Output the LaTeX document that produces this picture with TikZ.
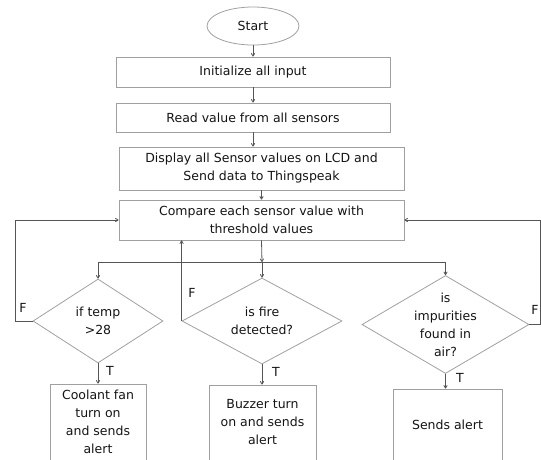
\documentclass[tikz,border=0pt]{standalone}
\usepackage{fontspec}
\setmainfont{DejaVu Sans}
\usetikzlibrary{shapes.geometric,arrows.meta}
\definecolor{boxline}{HTML}{A0A0A0}
\definecolor{wire}{HTML}{555555}
\definecolor{ink}{HTML}{141414}
\begin{document}
\begin{tikzpicture}[x=1pt,y=-1pt,
  every node/.style={text=ink,font=\fontsize{12.5}{18}\selectfont},
  procbox/.style={draw=boxline,line width=0.8pt,rectangle,inner sep=0pt,align=center},
  decision/.style={draw=boxline,line width=0.8pt,diamond,inner sep=-6pt,align=center},
  terminal/.style={draw=boxline,line width=0.8pt,ellipse,inner sep=0pt},
  flow/.style={draw=wire,line width=0.8pt,-{To[length=3.5pt,width=4pt]}},
  tag/.style={inner sep=0pt}]
\useasboundingbox (0,0) rectangle (541,459);

% main sequence
\node[terminal,minimum width=92,minimum height=38] (start) at (253,26) {Start};
\node[procbox,minimum width=274,minimum height=30] (init) at (253,72) {Initialize all input};
\node[procbox,minimum width=274,minimum height=29] (read) at (253,117.5) {Read value from all sensors};
\node[procbox,minimum width=285,minimum height=43] (disp) at (261.5,168.5)
  {Display all Sensor values on LCD and\\Send data to Thingspeak};
\node[procbox,minimum width=285,minimum height=40] (comp) at (261.5,220)
  {Compare each sensor value with\\threshold values};

% decisions
\node[decision,minimum width=130,minimum height=84,aspect=1.55] (temp) at (98,321) {if temp\\>28};
\node[decision,minimum width=160,minimum height=86,aspect=1.86] (fire) at (262,321) {is fire\\detected?};
\node[decision,minimum width=167,minimum height=98,aspect=1.7] (air) at (445.5,324.5) {is\\impurities\\found in\\air?};

% actions
\node[procbox,minimum width=96,minimum height=76] (fan) at (98,422) {Coolant fan\\turn on\\and sends\\alert};
\node[procbox,minimum width=107,minimum height=75] (buzz) at (262.5,422.5) {Buzzer turn\\on and sends\\alert};
\node[procbox,minimum width=109,minimum height=72] (alert) at (447.5,425) {Sends alert};

% connectors
\draw[flow] (start) -- (init);
\draw[flow] (init) -- (read);
\draw[flow] (read.south) -- (read.south |- disp.north);
\draw[flow] (disp.south -| comp.north) -- (comp.north);

\coordinate (split) at (262,262);
\draw[flow] (comp.south) -- (split);
\draw[flow] (split) -| (temp.north);
\draw[flow] (split) -| (air.north);
\draw[flow] (split) -- (fire.north);

\draw[flow] (temp.south) -- (fan.north);
\draw[flow] (fire.south) -- (fire.south |- buzz.north);
\draw[flow] (air.south) -- (air.south |- alert.north);

% false branches back to the comparison
\coordinate (leftrail) at (15,321);
\coordinate (rightrail) at (540.5,324.5);
\draw[flow] (temp.west) -- (leftrail) |- (comp.west);
\draw[flow] (fire.west) -- (fire.west |- comp.south);
\draw[flow] (air.east) -- (rightrail) |- (comp.east);

% branch labels
\node[tag] (f1) at (23,308) {F};
\node[tag] (f2) at (192,293) {F};
\node[tag] (f3) at (535,310) {F};
\node[tag] (t1) at (110,371) {T};
\node[tag] (t2) at (276,372) {T};
\node[tag] (t3) at (460,378) {T};
\end{tikzpicture}
\end{document}
